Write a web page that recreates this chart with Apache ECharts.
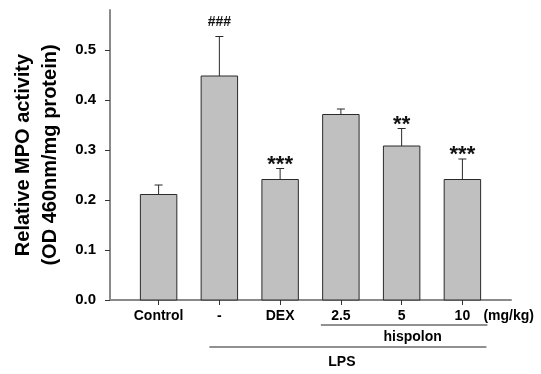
<!DOCTYPE html>
<html>
<head>
<meta charset="utf-8">
<script src="https://cdn.jsdelivr.net/npm/echarts@6/dist/echarts.min.js"></script>
<style>
  html, body { margin: 0; padding: 0; background: #fff; }
  #chart { width: 541px; height: 374px; }
</style>
</head>
<body>
<div id="chart"></div>
<script>
// Group labels along the x axis (positions 1..6)
const categories = ['Control', '-', 'DEX', '2.5', '5', '10'];
// Mean MPO activity per group and its error (upper bar only)
const means = [0.211, 0.448, 0.241, 0.371, 0.308, 0.241];
const errors = [0.019, 0.079, 0.022, 0.011, 0.035, 0.041];
// Significance marks above each bar
const marks = ['', '###', '***', '', '**', '***'];
// Y axis tick values
const yTicks = [0, 0.1, 0.2, 0.3, 0.4, 0.5];

const FONT = "'Liberation Sans', Arial, sans-serif";
const positions = categories.map((_, i) => i + 1);
const seriesData = means.map((m, i) => [i + 1, m, errors[i], i]);

const chart = echarts.init(document.getElementById('chart'), null, { renderer: 'canvas' });

function renderBar(params, api) {
  const x = api.value(0);
  const y = api.value(1);
  const e = api.value(2);
  const idx = api.value(3);
  const base = api.coord([x, 0]);
  const top = api.coord([x, y]);
  const errTop = api.coord([x, y + e]);
  const w = api.size([0.6, 0])[0];
  const children = [
    {
      type: 'rect',
      shape: { x: top[0] - w / 2, y: top[1], width: w, height: base[1] - top[1] },
      style: { fill: '#c0c0c0', stroke: '#2a2a2a', lineWidth: 1 }
    },
    {
      type: 'line',
      shape: { x1: top[0], y1: top[1], x2: errTop[0], y2: errTop[1] },
      style: { stroke: '#2a2a2a', lineWidth: 1 }
    },
    {
      type: 'line',
      shape: { x1: errTop[0] - 4, y1: errTop[1], x2: errTop[0] + 4, y2: errTop[1] },
      style: { stroke: '#2a2a2a', lineWidth: 1 }
    }
  ];
  const mark = marks[idx];
  if (mark) {
    const isStar = mark.charAt(0) === '*';
    children.push({
      type: 'text',
      style: {
        text: mark,
        x: errTop[0],
        y: isStar ? errTop[1] - 4 : errTop[1] - 14,
        align: 'center',
        verticalAlign: 'middle',
        font: isStar ? 'bold 22px ' + FONT : 'bold 14px ' + FONT,
        fill: '#111'
      }
    });
  }
  return { type: 'group', children: children };
}

chart.setOption({
  animation: false,
  backgroundColor: '#fff',
  grid: { left: 110, right: 30, top: 10, bottom: 74 },
  xAxis: {
    type: 'value',
    min: 0.2,
    max: 6.8,
    splitLine: { show: false },
    axisLine: { show: true, onZero: false, lineStyle: { color: '#8a8a8a', width: 2 } },
    axisTick: {
      show: true, customValues: positions, length: 5, inside: false,
      lineStyle: { color: '#333', width: 1 }
    },
    axisLabel: {
      customValues: positions,
      margin: 9,
      formatter: v => categories[Math.round(v) - 1],
      color: '#000',
      fontFamily: FONT,
      fontWeight: 'bold',
      fontSize: 14
    }
  },
  yAxis: {
    type: 'value',
    min: 0,
    max: 0.58,
    splitLine: { show: false },
    axisLine: { show: true, lineStyle: { color: '#8a8a8a', width: 2 } },
    axisTick: {
      show: true, customValues: yTicks, length: 5,
      lineStyle: { color: '#333', width: 1 }
    },
    axisLabel: {
      customValues: yTicks,
      margin: 14,
      formatter: v => v.toFixed(1),
      color: '#000',
      fontFamily: FONT,
      fontWeight: 'bold',
      fontSize: 15
    },
    name: 'Relative MPO activity\n(OD 460nm/mg protein)',
    nameLocation: 'middle',
    nameRotate: 90,
    nameGap: 45,
    nameTextStyle: {
      color: '#000',
      fontFamily: FONT,
      fontWeight: 'bold',
      fontSize: 20,
      lineHeight: 27
    }
  },
  series: [{
    type: 'custom',
    renderItem: renderBar,
    data: seriesData,
    clip: false
  }]
});

// Group annotations under the axis, placed from the axis scale
const px = v => chart.convertToPixel({ xAxisIndex: 0 }, v);
const axisY = chart.convertToPixel({ yAxisIndex: 0 }, 0);
const textStyle = (text, x, y, align) => ({
  text: text, x: x, y: y, align: align || 'center', verticalAlign: 'middle',
  font: 'bold 14px ' + FONT, fill: '#000'
});

chart.setOption({
  graphic: [
    { type: 'text', style: textStyle('(mg/kg)', px(6) + 21, axisY + 16, 'left') },
    {
      type: 'line',
      shape: { x1: px(4) - 20, y1: axisY + 25, x2: px(6) + 25, y2: axisY + 25 },
      style: { stroke: '#222', lineWidth: 1 }
    },
    { type: 'text', style: textStyle('hispolon', (px(4) + px(6)) / 2 + 11, axisY + 37) },
    {
      type: 'line',
      shape: { x1: px(2) - 10, y1: axisY + 47, x2: px(6) + 24, y2: axisY + 47 },
      style: { stroke: '#222', lineWidth: 1 }
    },
    { type: 'text', style: textStyle('LPS', (px(2) + px(6)) / 2 + 1, axisY + 62) }
  ]
});
</script>
</body>
</html>
